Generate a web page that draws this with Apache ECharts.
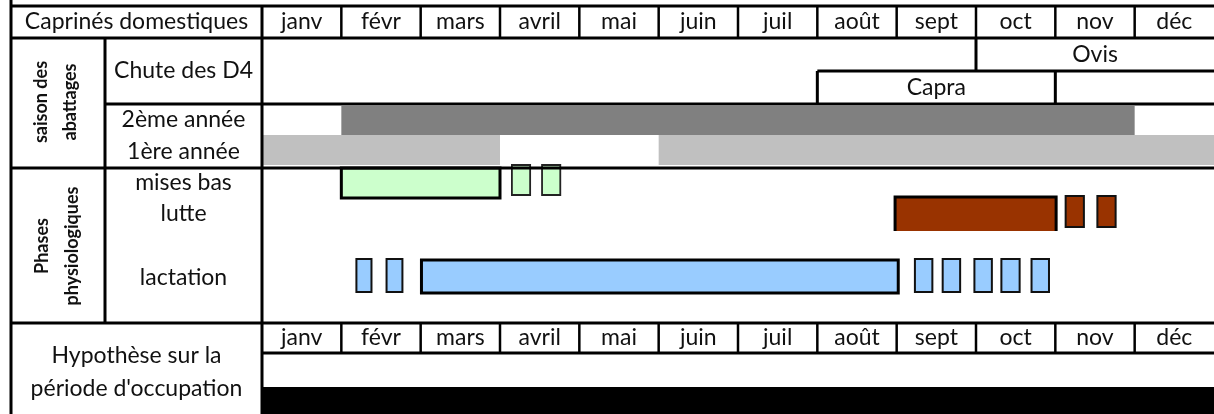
<!DOCTYPE html>
<html>
<head>
<meta charset="utf-8">
<script src="https://cdn.jsdelivr.net/npm/echarts@6/dist/echarts.min.js"></script>
<style>
  html, body { margin: 0; padding: 0; background: #fff; }
  #chart { width: 1214px; height: 414px; }
</style>
</head>
<body>
<div id="chart"></div>
<script>
// mois (axe des x : 0 = début janv, 12 = fin déc)
const months = ['janv', 'févr', 'mars', 'avril', 'mai', 'juin', 'juil', 'août', 'sept', 'oct', 'nov', 'déc']

// saison des abattages
const chuteOvis = [[9, 12]]
const chuteCapra = [[7, 10]]
const deuxiemeAnnee = [[1, 11]]
const premiereAnnee = [[0, 3], [5, 12]]

// phases physiologiques
const misesBas = [[1, 3]]
const misesBasPetits = [[3.15, 3.38], [3.53, 3.76]]
const lutte = [[7.98, 10.01]]
const luttePetits = [[10.13, 10.36], [10.53, 10.76]]
const lactation = [[2.01, 8.02]]
const lactationPetits = [[1.19, 1.38], [1.57, 1.77], [8.23, 8.45], [8.58, 8.8], [8.98, 9.2], [9.32, 9.55], [9.7, 9.92]]

// hypothèse sur la période d'occupation
const occupation = [[0, 12]]

const FONT = 'Lato'
const FS = 23

// bandes verticales des lignes (en pixels, axe des y inversé)
const bands = {
  header: [6, 38],
  ovis: [38, 71],
  capra: [71, 104],
  deuxieme: [106, 135],
  premiere: [135, 165],
  misesBas: [168, 198],
  misesBasPetits: [165, 195],
  lutte: [197, 231],
  luttePetits: [196, 227],
  lactation: [260, 293],
  lactationPetits: [259, 292],
  header2: [323, 353],
  occupation: [387, 416]
}

function rectSeries (name, data, band, style, z) {
  return {
    type: 'custom',
    name: name,
    clip: false,
    silent: true,
    z: z || 2,
    data: data,
    encode: { x: [0, 1] },
    renderItem: function (params, api) {
      const p0 = api.coord([api.value(0), band[0]])
      const p1 = api.coord([api.value(1), band[1]])
      return {
        type: 'rect',
        shape: { x: p0[0], y: p0[1], width: p1[0] - p0[0], height: p1[1] - p0[1] },
        style: style
      }
    }
  }
}

// boîte brune ouverte en bas (comme dans le tableau d'origine)
function lutteSeries () {
  return {
    type: 'custom',
    name: 'lutte',
    clip: false,
    silent: true,
    z: 3,
    data: lutte,
    encode: { x: [0, 1] },
    renderItem: function (params, api) {
      const p0 = api.coord([api.value(0), bands.lutte[0]])
      const p1 = api.coord([api.value(1), bands.lutte[1]])
      return {
        type: 'group',
        children: [
          { type: 'rect', shape: { x: p0[0], y: p0[1], width: p1[0] - p0[0], height: p1[1] - p0[1] }, style: { fill: '#993300' } },
          { type: 'polyline', shape: { points: [[p0[0], p1[1]], [p0[0], p0[1]], [p1[0], p0[1]], [p1[0], p1[1]]] }, style: { stroke: '#000', lineWidth: 3, fill: null } }
        ]
      }
    }
  }
}

function txt (text, x, y, opts) {
  opts = opts || {}
  return {
    type: 'text',
    x: x,
    y: y,
    rotation: opts.rotation || 0,
    style: {
      text: text,
      fontFamily: FONT,
      fontSize: opts.fontSize || FS,
      fontWeight: opts.bold ? 'bold' : 'normal',
      lineHeight: opts.lineHeight,
      fill: '#111',
      align: 'center',
      verticalAlign: 'middle'
    }
  }
}

// cadre du tableau et textes fixes
const frameSeries = {
  type: 'custom',
  name: 'cadre',
  clip: false,
  silent: true,
  z: 5,
  data: [[0, 12]],
  encode: { x: [0, 1] },
  renderItem: function (params, api) {
    const X = m => api.coord([m, 0])[0]
    const L0 = 11
    const L1 = 105
    const R = X(12) + 5
    const ch = []
    const line = (x1, y1, x2, y2, w) => ch.push({
      type: 'line', shape: { x1: x1, y1: y1, x2: x2, y2: y2 }, style: { stroke: '#000', lineWidth: w || 3 }
    })
    // bords et séparations principales
    line(L0, 0, L0, 414)
    line(L0, 6, R, 6)
    line(L0, 38, R, 38)
    line(L1, 104, R, 104)
    line(L0, 168, R, 168)
    line(L0, 323, R, 323)
    line(L1, 38, L1, 323)
    line(X(0), 6, X(0), 414)
    // colonnes des mois (en-têtes)
    for (let i = 1; i < 12; i++) {
      line(X(i), 6, X(i), 38, 2.5)
      line(X(i), 323, X(i), 353, 2.5)
    }
    line(X(0), 353, R, 353)
    // Ovis / Capra
    line(X(chuteOvis[0][0]), 38, X(chuteOvis[0][0]), 71)
    line(X(chuteCapra[0][0]), 71, R, 71)
    line(X(chuteCapra[0][0]), 71, X(chuteCapra[0][0]), 104)
    line(X(chuteCapra[0][1]), 71, X(chuteCapra[0][1]), 104)

    // textes
    ch.push(txt('Caprinés domestiques', (L0 + X(0)) / 2, 22))
    months.forEach((m, i) => {
      ch.push(txt(m, X(i + 0.5), 22))
      ch.push(txt(m, X(i + 0.5), 338))
    })
    ch.push(txt('Ovis', (X(chuteOvis[0][0]) + 1214) / 2, 55))
    ch.push(txt('Capra', X((chuteCapra[0][0] + chuteCapra[0][1]) / 2), 88))
    const cx = (L1 + X(0)) / 2
    ch.push(txt('Chute des D4', cx, 71))
    ch.push(txt('2ème année', cx, 120))
    ch.push(txt('1ère année', cx, 152))
    ch.push(txt('mises bas', cx, 183))
    ch.push(txt('lutte', cx, 214))
    ch.push(txt('lactation', cx, 278))
    ch.push(txt('saison des\nabattages', 56, 102, { rotation: Math.PI / 2, bold: true, fontSize: 18, lineHeight: 29 }))
    ch.push(txt('Phases\nphysiologiques', 57, 246, { rotation: Math.PI / 2, bold: true, fontSize: 18, lineHeight: 30 }))
    ch.push(txt('Hypothèse sur la\npériode d\'occupation', (L0 + X(0)) / 2, 372, { lineHeight: 33 }))
    return { type: 'group', children: ch }
  }
}

const chart = echarts.init(document.getElementById('chart'), null, { renderer: 'canvas' })
chart.setOption({
  animation: false,
  backgroundColor: '#fff',
  grid: { left: 262, top: 0, width: 955, height: 414 },
  xAxis: { type: 'value', min: 0, max: 12, show: false },
  yAxis: { type: 'value', min: 0, max: 414, inverse: true, show: false },
  series: [
    rectSeries('2ème année', deuxiemeAnnee, bands.deuxieme, { fill: '#808080' }),
    rectSeries('1ère année', premiereAnnee, bands.premiere, { fill: '#c0c0c0' }),
    rectSeries('mises bas', misesBas, bands.misesBas, { fill: '#ccffcc', stroke: '#000', lineWidth: 3 }, 3),
    rectSeries('mises bas (petits)', misesBasPetits, bands.misesBasPetits, { fill: '#ccffcc', stroke: '#222', lineWidth: 1.8 }, 3),
    lutteSeries(),
    rectSeries('lutte (petits)', luttePetits, bands.luttePetits, { fill: '#993300', stroke: '#111', lineWidth: 2 }, 3),
    rectSeries('lactation', lactation, bands.lactation, { fill: '#99ccff', stroke: '#000', lineWidth: 3 }, 3),
    rectSeries('lactation (petits)', lactationPetits, bands.lactationPetits, { fill: '#99ccff', stroke: '#111', lineWidth: 2 }, 3),
    rectSeries('occupation', occupation, bands.occupation, { fill: '#000' }),
    frameSeries
  ]
})
</script>
</body>
</html>
